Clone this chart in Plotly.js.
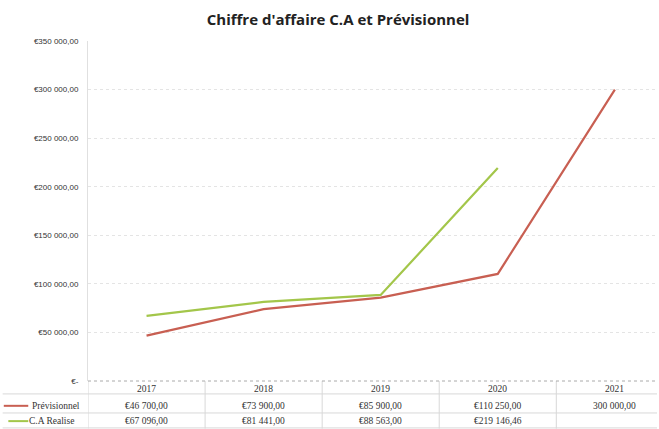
<!DOCTYPE html>
<html>
<head>
<meta charset="utf-8">
<script src="https://cdn.plot.ly/plotly-3.0.1.min.js"></script>
<style>html,body{margin:0;padding:0;background:#fff;}#chart{width:659px;height:429px;}</style>
</head>
<body>
<div id="chart"></div>
<script>
const years = ['2017', '2018', '2019', '2020', '2021'];
const previsionnel = [46700, 73900, 85900, 110250, 300000];
const caRealise = [67096, 81441, 88563, 219146.46, null];
const previsionnelLabels = ['€46 700,00', '€73 900,00', '€85 900,00', '€110 250,00', '300 000,00'];
const caRealiseLabels = ['€67 096,00', '€81 441,00', '€88 563,00', '€219 146,46', ''];
const yTickVals = [0, 50000, 100000, 150000, 200000, 250000, 300000, 350000];
const yTickText = ['€-', '€50 000,00', '€100 000,00', '€150 000,00', '€200 000,00', '€250 000,00', '€300 000,00', '€350 000,00'];
const seriesNames = ['Prévisionnel', 'C.A Realise'];
const colors = ['#c85f52', '#a3c64a'];

const tickFont = {family: 'Liberation Sans, Arial, sans-serif', size: 8, color: '#333'};
const tblFont = {family: 'Liberation Serif, serif', size: 9.5, color: '#333'};

const traces = [
  {x: years, y: previsionnel, type: 'scatter', mode: 'lines', name: seriesNames[0],
   line: {color: colors[0], width: 2.2}, hoverinfo: 'skip'},
  {x: years, y: caRealise, type: 'scatter', mode: 'lines', name: seriesNames[1],
   line: {color: colors[1], width: 2.2}, hoverinfo: 'skip'}
];

// table rows in paper coordinates
const yHeader = -0.024, yRow1 = -0.073, yRow2 = -0.118;
const annotations = [];
const shapes = [];
years.forEach((yr, i) => {
  annotations.push({x: i, xref: 'x', y: yHeader, yref: 'paper', text: yr, showarrow: false, font: tblFont, yanchor: 'middle'});
  annotations.push({x: i, xref: 'x', y: yRow1, yref: 'paper', text: previsionnelLabels[i], showarrow: false, font: tblFont, yanchor: 'middle'});
  if (caRealiseLabels[i]) annotations.push({x: i, xref: 'x', y: yRow2, yref: 'paper', text: caRealiseLabels[i], showarrow: false, font: tblFont, yanchor: 'middle'});
});
// legend keys in table
annotations.push({x: -0.5, xref: 'x', xanchor: 'right', xshift: -6, y: yRow1, yref: 'paper', text: seriesNames[0], showarrow: false, font: tblFont, yanchor: 'middle'});
annotations.push({x: -0.5, xref: 'x', xanchor: 'right', xshift: -12, y: yRow2, yref: 'paper', text: seriesNames[1], showarrow: false, font: tblFont, yanchor: 'middle'});
shapes.push({type: 'line', xref: 'paper', yref: 'paper', x0: -0.148, x1: -0.105, y0: yRow1, y1: yRow1, line: {color: colors[0], width: 2}});
shapes.push({type: 'line', xref: 'paper', yref: 'paper', x0: -0.14, x1: -0.105, y0: yRow2, y1: yRow2, line: {color: colors[1], width: 2}});
// table grid
[-0.038, -0.094, -0.138].forEach(yy => {
  shapes.push({type: 'line', xref: 'paper', yref: 'paper', x0: -0.15, x1: 1, y0: yy, y1: yy, line: {color: '#d8d8d8', width: 1}});
});
[-0.5, 0.5, 1.5, 2.5, 3.5].forEach(xx => {
  shapes.push({type: 'line', xref: 'x', yref: 'paper', x0: xx, x1: xx, y0: 0, y1: -0.14, line: {color: '#d8d8d8', width: 1}});
});

const layout = {
  width: 659, height: 429,
  paper_bgcolor: '#ffffff', plot_bgcolor: '#ffffff',
  margin: {l: 88, r: 2, t: 41, b: 48},
  showlegend: false,
  title: {text: "<b>Chiffre d'affaire C.A et Prévisionnel</b>", x: 0.513, xanchor: 'center', y: 0.953, yanchor: 'middle',
          font: {family: 'Open Sans, sans-serif', size: 15, color: '#222'}},
  xaxis: {type: 'category', range: [-0.5, 4.36], showticklabels: false, showgrid: false, zeroline: false,
          showline: false, ticks: ''},
  yaxis: {range: [0, 350000], tickvals: yTickVals, ticktext: yTickText, tickfont: tickFont,
          showgrid: true, gridcolor: '#e4e4e4', griddash: 'dot', gridwidth: 1, zeroline: false,
          showline: true, linecolor: '#e0e0e0', ticks: '', ticklabelstandoff: 7},
  shapes: shapes.concat([{type: 'line', xref: 'paper', yref: 'paper', x0: 0, x1: 1, y0: 0, y1: 0, line: {color: '#aaaaaa', width: 1, dash: 'dot'}}]),
  annotations: annotations
};

Plotly.newPlot('chart', traces, layout, {displayModeBar: false, staticPlot: true});
</script>
</body>
</html>
